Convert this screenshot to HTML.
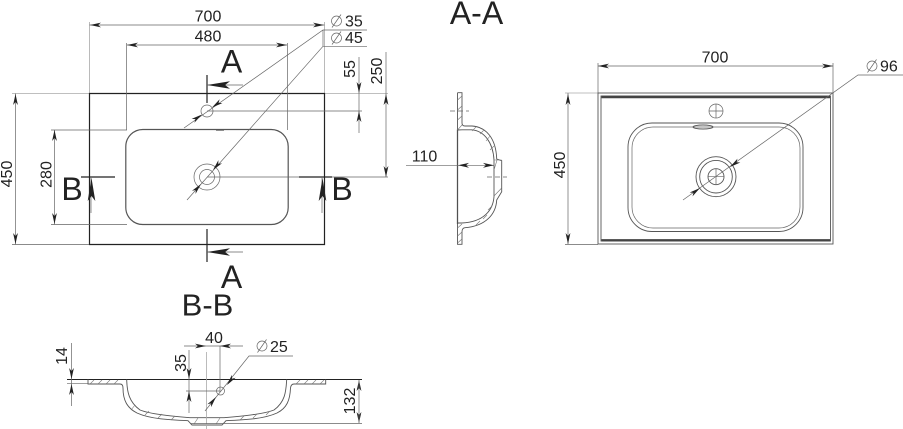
<!DOCTYPE html>
<html><head><meta charset="utf-8"><style>
html,body{margin:0;padding:0;background:#fff}
svg{display:block}
text{font-family:"Liberation Sans",sans-serif;fill:#222}
.d{font-size:16px;text-anchor:middle}
.b{font-size:32px;text-anchor:middle}
.t{stroke:#666;stroke-width:.7;fill:none}
.g{stroke:#aaa;stroke-width:.8;fill:none}
.k{stroke:#222;stroke-width:1.2;fill:none}
.m{stroke:#555;stroke-width:.9;fill:none}
.h{stroke:#777;stroke-width:.6;fill:none}
.a{fill:#222;stroke:none}
</style></head><body>
<svg width="903" height="429" viewBox="0 0 903 429" xmlns="http://www.w3.org/2000/svg">
<defs>
<path id="ar" class="a" d="M0 0L11 -2.400L8 0L11 2.400Z"/>
<path id="br" class="a" d="M0 0L23 -3.800L18 0L23 3.800Z"/>
</defs>

<!-- LEFT TOP VIEW -->
<path class="g" d="M12 93.500H89M325 93.500H388M89.500 22V93M324.500 22V93"/>
<path class="k" d="M89.500 93.500H324.500V244.500H89.500Z"/>
<rect class="m" x="125.800" y="129.500" width="162.400" height="95" rx="17" style="stroke-width:1.200"/>
<path class="t" d="M216 130.500h8"/>
<path class="t" d="M89.500 25H324.500M127 45H287M126.500 43V130M287.500 43V130M12 244.500H89M15.500 93.500V244.500M51 130H127M51 224.500H127M54.500 130V224.500"/>
<path class="t" d="M207 111H362M359 57V133M207 177H388M386 52V177"/>
<use href="#ar" transform="translate(90,25)"/><use href="#ar" transform="translate(324,25) rotate(180)"/>
<use href="#ar" transform="translate(127,45)"/><use href="#ar" transform="translate(287,45) rotate(180)"/>
<use href="#ar" transform="translate(15.500,94) rotate(90)"/><use href="#ar" transform="translate(15.500,244) rotate(-90)"/>
<use href="#ar" transform="translate(54.500,130) rotate(90)"/><use href="#ar" transform="translate(54.500,224) rotate(-90)"/>
<use href="#ar" transform="translate(359,93) rotate(-90)"/><use href="#ar" transform="translate(359,111) rotate(90)"/>
<use href="#ar" transform="translate(386,94) rotate(90)"/><use href="#ar" transform="translate(386,177) rotate(-90)"/>
<text class="d" x="208" y="21.500">700</text>
<text class="d" x="208" y="41.700">480</text>
<text class="d" transform="translate(12,174) rotate(-90)">450</text>
<text class="d" transform="translate(51.500,174.500) rotate(-90)">280</text>
<text class="d" transform="translate(355,69) rotate(-90)">55</text>
<text class="d" transform="translate(382,71) rotate(-90)">250</text>
<circle class="t" cx="207" cy="111" r="6"/>
<circle class="t" cx="207" cy="177" r="13"/><circle class="t" cx="207" cy="177" r="7.500"/>
<path class="t" d="M184 128L323 30H367M187 200L323 46.300H367M323 30V46"/>
<use href="#ar" transform="translate(212,107.500) rotate(-35)"/>
<use href="#ar" transform="translate(202,114.500) rotate(145)"/>
<use href="#ar" transform="translate(213,170) rotate(-49)"/>
<use href="#ar" transform="translate(201,184) rotate(131)"/>
<g class="t"><circle cx="336.500" cy="21" r="5"/><path d="M332 27.500L341 14.500"/><circle cx="336.500" cy="38" r="5"/><path d="M332 44.500L341 31.500"/></g>
<text x="345" y="26.500" style="font-size:16px">35</text>
<text x="345" y="43" style="font-size:16px">45</text>

<path class="k" d="M207 75V103M207 229V262M81 177H115M299 177H332"/>
<path class="t" d="M207 85H243M207 252H243M91 177V213M322 177V213"/>
<use href="#br" transform="translate(207,85)"/><use href="#br" transform="translate(207,252)"/>
<use href="#br" transform="translate(91.500,178) rotate(90)"/><use href="#br" transform="translate(322.500,178) rotate(90)"/>
<text class="b" x="231.500" y="72.500">A</text>
<text class="b" x="231.500" y="288">A</text>
<text class="b" x="72" y="200">B</text>
<text class="b" x="342" y="200">B</text>

<!-- A-A -->
<text class="b" x="476.500" y="24">A-A</text>
<path class="k" d="M457.500 129.500V224"/>
<path class="m" d="M457.500 92.700H462V123Q462 126 465 126H472C486 127 496 138 496.700 159L501.700 160.700V191.700L496.700 200C496 214 486 226 465 227.700Q462 228 462 232V244.300H457.500V92.700"/>
<path class="m" d="M457.500 130L462 129.800H472C484 131 493 142 494 160V196.700C493 210 484 222 462 223L457.500 223"/>
<path class="h" d="M457.500 130L462 125M494 160H501.700M494 196L501.700 188M497 160L494 170M457.500 100L462 96M457.500 110L462 106M457.500 120L462 116M457.500 228L462 224M457.500 236L462 232M457.500 243L462 239M476 127L472 131M484 130L480 134M490 136L486 141M494 146L490 150M492 206L488 210M487 215L483 219M480 221L476 225"/>
<path class="t" d="M406 165.300H494"/>
<use href="#ar" transform="translate(458,165.300)"/><use href="#ar" transform="translate(494,165.300) rotate(180)"/>
<text class="d" x="424.500" y="161.700">110</text>
<path class="t" stroke-dasharray="5 3" d="M450 111H469M487 177H507"/>

<!-- RIGHT VIEW -->
<path class="g" d="M565 93H598"/>
<path class="t" d="M565 244.500H598M598 63V93M833 63V93M598 66H833M568 93V244"/>
<rect class="m" x="598" y="93" width="235" height="151"/>
<rect class="m" x="601" y="96" width="229.500" height="145"/>
<path d="M601.500 97H830M601.500 240.300H830" stroke="#444" stroke-width="2.400" fill="none"/>
<use href="#ar" transform="translate(598,66)"/><use href="#ar" transform="translate(833,66) rotate(180)"/>
<use href="#ar" transform="translate(568,94) rotate(90)"/><use href="#ar" transform="translate(568,244) rotate(-90)"/>
<text class="d" x="715" y="62.700">700</text>
<text class="d" transform="translate(565,165) rotate(-90)">450</text>
<circle class="t" cx="716" cy="111" r="7"/><path class="t" d="M709 111H723M716 104V118"/>
<rect class="m" x="628" y="123" width="175" height="108.500" rx="24"/>
<rect class="t" x="632" y="127" width="168" height="101" rx="21"/>
<ellipse class="m" cx="703" cy="127" rx="10" ry="2"/>
<circle class="m" cx="716" cy="176.700" r="20"/><circle class="m" cx="716" cy="176.700" r="16.300"/>
<circle class="m" cx="716" cy="176.700" r="8"/><path class="t" d="M708 176.700H724M716 168.700V184.700"/>
<path class="t" d="M683 200L858 75H903"/>
<use href="#ar" transform="translate(730,167) rotate(-36)"/>
<use href="#ar" transform="translate(700,188) rotate(144)"/>
<g class="t"><circle cx="872" cy="66" r="5"/><path d="M867.500 72.500L876.500 59.500"/></g>
<text x="880" y="71.700" style="font-size:16px">96</text>

<!-- B-B -->
<text class="b" x="207.500" y="315.700" style="font-size:31px">B-B</text>
<path class="k" style="stroke-width:1" d="M67 379.500H362"/>
<path class="t" d="M67 383.700H88M71.500 343V406"/>
<use href="#ar" transform="translate(71.500,379) rotate(-90)"/><use href="#ar" transform="translate(71.500,384) rotate(90)"/>
<text class="d" transform="translate(67,356) rotate(-90)">14</text>
<path class="m" d="M88 379.500V384H120Q123 384 123 388C123 400 127 408 137 413C150 419 170 420 188 420.700L192 425H222L226 420.700C244 420 264 419 277 413C287 408 290 400 290.500 388Q291 384 294 384H325.700V379.500"/>
<path class="m" d="M126.700 379.500C127 392 129 402 140 410C150 414 170 416 190 417.700H224C244 416 264 414 274 410C285 402 286 392 286.700 379.500"/>
<path class="h" d="M90 384L94 380M98 384L102 380M106 384L110 380M114 384L118 380M296 384L300 380M304 384L308 380M312 384L316 380M320 384L324 380M131 410L135 405M145 415L149 411M158 418L162 414M171 420L175 416M240 420L244 416M253 418L257 414M266 415L270 411M194 424L198 418M216 424L220 418"/>
<path class="g" d="M206.500 352V429"/>
<path class="t" d="M184 346H243M220 346V392M189 350V413M186 391H220M190 423.500H362"/>
<use href="#ar" transform="translate(206,346) rotate(180)"/><use href="#ar" transform="translate(220,346)"/>
<use href="#ar" transform="translate(189,379) rotate(-90)"/><use href="#ar" transform="translate(189,391) rotate(90)"/>
<use href="#ar" transform="translate(359,380) rotate(90)"/><use href="#ar" transform="translate(359,423) rotate(-90)"/>
<path class="t" d="M359 380V423"/>
<circle class="t" cx="220.500" cy="391" r="4"/>
<path class="t" d="M205 411L249 356H293"/>
<use href="#ar" transform="translate(227,385) rotate(-52)"/>
<use href="#ar" transform="translate(216,397) rotate(128)"/>
<text class="d" x="214" y="343">40</text>
<text class="d" transform="translate(186,363) rotate(-90)">35</text>
<text class="d" transform="translate(355,401) rotate(-90)">132</text>
<g class="t"><circle cx="262" cy="346" r="5"/><path d="M257.500 352.500L266.500 339.500"/></g>
<text x="270" y="352" style="font-size:16px">25</text>
</svg>
</body></html>
